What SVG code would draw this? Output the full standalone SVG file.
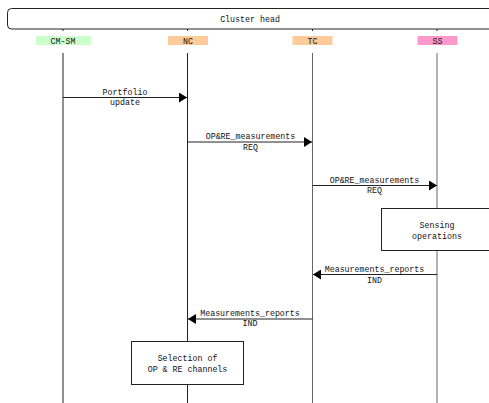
<svg xmlns="http://www.w3.org/2000/svg" width="489" height="403" viewBox="0 0 489 403">
<style>
text{font-family:"Liberation Mono","DejaVu Sans Mono",monospace;font-size:8.3px;fill:#111;text-anchor:middle}
.life{stroke:#222;stroke-width:1}
.life2{stroke:#666;stroke-width:1}
.msg{stroke:#222;stroke-width:1;fill:none}
.box{fill:#fff;stroke:#222;stroke-width:1}
</style>
<defs>
<marker id="ah" markerWidth="8" markerHeight="10" refX="8" refY="5" orient="auto" markerUnits="userSpaceOnUse">
<path d="M0,0 L8,5 L0,10 Z" fill="#000"/>
</marker>
</defs>
<rect width="489" height="403" fill="#fff"/>
<g id="cluster-head">
<rect x="7.5" y="8.5" width="490" height="20.5" rx="4" class="box"/>
<text x="250" y="22">Cluster head</text>
</g>
<g id="lifelines">
<line x1="63" y1="29" x2="63" y2="31" class="life"/>
<line x1="187.5" y1="29" x2="187.5" y2="31" class="life"/>
<line x1="312.5" y1="29" x2="312.5" y2="31" class="life"/>
<line x1="437" y1="29" x2="437" y2="31" class="life"/>
</g>
<g id="cm-sm">
<rect x="36" y="36" width="55" height="9" fill="#ccffcc"/>
<text x="63" y="44">CM-SM</text>
<line x1="63" y1="53" x2="63" y2="403" class="life"/>
</g>
<g id="nc">
<rect x="168" y="36" width="40" height="9" fill="#ffcc99"/>
<text x="188" y="44">NC</text>
<line x1="187.5" y1="53" x2="187.5" y2="403" class="life"/>
</g>
<g id="tc">
<rect x="292.5" y="36" width="40" height="9" fill="#ffcc99"/>
<text x="312.5" y="44">TC</text>
<line x1="312.5" y1="53" x2="312.5" y2="403" class="life2"/>
</g>
<g id="ss">
<rect x="417.5" y="36" width="40" height="9" fill="#ff99cc"/>
<text x="437.5" y="44">SS</text>
<line x1="437" y1="53" x2="437" y2="403" class="life2"/>
</g>
<g id="sensing">
<rect x="381.5" y="208.5" width="110" height="42" class="box"/>
<text x="437" y="228">Sensing</text>
<text x="437" y="239">operations</text>
</g>
<g id="selection">
<rect x="131.5" y="341.5" width="112" height="43" class="box"/>
<text x="187.5" y="361">Selection of</text>
<text x="187.5" y="371.5">OP &amp; RE channels</text>
</g>
<g id="connectors">
<line x1="63" y1="97.5" x2="187" y2="97.5" class="msg" marker-end="url(#ah)"/>
<text x="125" y="95">Portfolio</text>
<text x="125" y="105">update</text>
<line x1="187.5" y1="142" x2="312" y2="142" class="msg" marker-end="url(#ah)"/>
<text x="250.5" y="139">OP&amp;RE_measurements</text>
<text x="250.5" y="149.5">REQ</text>
<line x1="312.5" y1="185.5" x2="437" y2="185.5" class="msg" marker-end="url(#ah)"/>
<text x="374.5" y="183">OP&amp;RE_measurements</text>
<text x="374.5" y="193">REQ</text>
<line x1="437" y1="274.5" x2="313" y2="274.5" class="msg" marker-end="url(#ah)"/>
<text x="374.5" y="272">Measurements_reports</text>
<text x="374.5" y="282.5">IND</text>
<line x1="312.5" y1="319" x2="188" y2="319" class="msg" marker-end="url(#ah)"/>
<text x="250" y="316">Measurements_reports</text>
<text x="250" y="326">IND</text>
</g>
</svg>
